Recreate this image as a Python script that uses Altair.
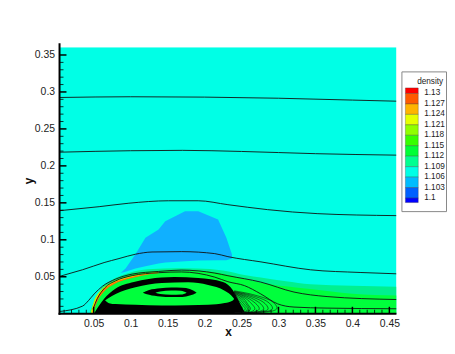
import altair as alt
import pandas as pd

X_DOMAIN = [0.0038, 0.4596]
Y_DOMAIN = [0.0, 0.3606]
X_LABELS = [0.05, 0.1, 0.15, 0.2, 0.25, 0.3, 0.35, 0.4, 0.45]
Y_LABELS = [0.05, 0.1, 0.15, 0.2, 0.25, 0.3, 0.35]
X_MINOR = [i / 100 for i in range(1, 46) if i % 5]
Y_MINOR = [i / 100 for i in range(1, 36) if i % 5]

LEVELS = [1.13, 1.127, 1.124, 1.121, 1.118, 1.115, 1.112, 1.109, 1.106, 1.103, 1.1]
LEVEL_TEXT = ["1.13", "1.127", "1.124", "1.121", "1.118", "1.115", "1.112", "1.109", "1.106", "1.103", "1.1"]
BAND_EDGES = [1.1316, 1.13, 1.127, 1.124, 1.121, 1.118, 1.115, 1.112, 1.109, 1.106, 1.103, 1.1, 1.0987]
BAND_COLORS = ["#ff0000", "#ff5a00", "#ffb400", "#e6ff00", "#90ff00", "#36ff00",
               "#00ff36", "#00ff90", "#00ffe6", "#00bcff", "#0060ff", "#0000ff"]

CYAN, BLUE, LGREEN, GREEN = "#00ffe6", "#10b0ff", "#00f090", "#00ff3c"

BLOB_X = [.0864, .0931, .1065, .12, .1378, .1468, .1736, .1915, .2183, .2295, .2371]
BLOB_TOP = [.0552, .0612, .0805, .1028, .114, .1251, .1386, .1386, .1274, .1028, .0802]
BLOB_BOT = [.0552, .0568, .0612, .0643, .0679, .0693, .0711, .072, .0724, .0724, .0746]

L1_X = [.0455, .0507, .0597, .0731, .0882, .1043, .13, .16, .19, .2249, .2558, .276, .31, .343, .40, .4596]
L1_Y = [.0044, .016, .0335, .0446, .052, .0572, .0605, .0615, .0612, .0585, .052, .049, .044, .040, .038, .0366]
L2_X = [.046, .052, .061, .075, .09, .105, .13, .16, .19, .2249, .25, .276, .31, .343, .40, .4596]
L2_Y = [.0044, .015, .031, .0425, .0495, .054, .0575, .0585, .058, .054, .048, .042, .037, .0334, .027, .0245]

ARC3_X = [.0465, .05, .059, .0725, .0885, .1065, .1365]
ARC3_Y = [.004, .016, .031, .0415, .048, .0525, .0565]
ARC4_X = [.0475, .051, .06, .0735, .0895, .1075, .1375]
ARC4_Y = [.004, .0155, .0305, .041, .0475, .052, .056]
ARC5_X = [.0485, .052, .061, .0745, .0905, .1085, .1385]
ARC5_Y = [.004, .015, .03, .0405, .047, .0515, .0555]
ARC6_X = [.05, .0545, .0635, .0775, .095, .115, .14, .17, .2, .25]
ARC6_Y = [.004, .016, .0295, .040, .0465, .0515, .055, .056, .0555, .045]

BLACK_X = [.0507, .0574, .0641, .0788, .1043, .1244, .1592, .1914, .2249, .2383, .2450, .2500, .2550]
BLACK_Y = [.0007, .011, .0201, .0335, .0429, .0469, .0496, .0483, .0429, .0319, .0200, .0100, .0010]

GREEN_X = [.0654, .0708, .0798, .1066, .1422, .178, .2048, .2272, .2383, .24]
GREEN_TOP = [.0178, .0215, .0268, .0358, .0416, .0425, .0389, .0312, .0224, .02]
GREEN_BOT = [.0178, .0143, .013, .012, .0112, .0115, .0121, .0145, .018, .02]

RING_X = [.1164, .125, .14, .155, .17, .18, .1893]
RING_TOP = [.0285, .032, .0345, .0355, .0352, .0335, .0285]
RING_BOT = [.0285, .0255, .0232, .0225, .0226, .0245, .0285]
HOLE_X = [.1334, .14, .155, .168, .1758]
HOLE_TOP = [.0285, .0302, .0315, .031, .0285]
HOLE_BOT = [.0285, .0268, .0257, .026, .0285]

LINES = [
    ([.0038, .1, .2, .3, .4, .4596], [.2925, .2935, .293, .2915, .289, .2875]),
    ([.0038, .1, .17, .25, .35, .4596], [.2185, .2205, .221, .2195, .2165, .2145]),
    ([.0038, .0574, .0976, .1512, .1914, .2316, .2852, .3523, .4596],
     [.1394, .1448, .1495, .1528, .1528, .1475, .1408, .1354, .1327]),
    ([.0038, .0194, .035, .0641, .0842, .1065, .1289, .1691, .2138, .2316, .2763, .3434, .4104, .4596],
     [.0505, .055, .0595, .0692, .0746, .0805, .0835, .084, .0813, .0772, .0701, .0594, .0558, .054]),
    ([.0038, .035, .043, .0507, .0618, .0798, .102, .1378, .1686, .2138, .2316, .276, .321, .3657, .4596],
     [.003, .0103, .0178, .0268, .0371, .0469, .0536, .0572, .059, .055, .0514, .0428, .0293, .0232, .0192]),
    ([.049, .0549, .065, .0798, .102, .1378, .1686, .2138, .2316, .254, .276, .2987, .321, .3657, .4596],
     [.006, .0205, .035, .0445, .0515, .0555, .0565, .0495, .0433, .038, .0268, .0134, .009, .0076, .0067]),
]
FAN = [
    ([.240, .247, .252, .255, .252, .247, .240], [.026, .017, .011, .007, .003, .0015, .001]),
    ([.240, .249, .255, .258, .255, .249, .240], [.027, .018, .011, .007, .003, .0015, .001]),
    ([.240, .251, .257, .260, .257, .251, .240], [.027, .019, .012, .007, .003, .0015, .001]),
    ([.240, .253, .259, .262, .259, .252, .240], [.028, .020, .012, .007, .003, .0015, .001]),
    ([.240, .255, .264, .268, .264, .255, .240], [.028, .021, .013, .007, .003, .0015, .001]),
    ([.240, .257, .269, .274, .269, .257, .240], [.029, .022, .014, .007, .003, .0015, .001]),
    ([.240, .259, .274, .280, .274, .259, .240], [.029, .023, .015, .007, .003, .0015, .001]),
    ([.240, .261, .279, .286, .279, .261, .240], [.030, .024, .016, .007, .003, .0015, .001]),
    ([.240, .263, .284, .292, .284, .263, .240], [.030, .025, .017, .0075, .003, .0015, .001]),
    ([.240, .265, .289, .298, .289, .265, .240], [.031, .026, .018, .008, .003, .0015, .001]),
]

W, H = 340, 269
xs = alt.Scale(domain=X_DOMAIN, nice=False, zero=False)
ys = alt.Scale(domain=Y_DOMAIN, nice=False, zero=False)
FONT = "Liberation Sans"

x_axis = alt.Axis(values=X_LABELS, format=".2~f", title="x", ticks=False, domain=False, grid=False,
                  labelFont=FONT, labelFontSize=10.5, labelColor="#222222", labelPadding=5,
                  titleFont=FONT, titleFontSize=12, titleFontWeight="bold", titleColor="#111111", titlePadding=-3)
y_axis = alt.Axis(values=Y_LABELS, format=".2~f", title="y", ticks=False, domain=False, grid=False,
                  labelFont=FONT, labelFontSize=10.5, labelColor="#222222", labelPadding=5,
                  titleFont=FONT, titleFontSize=12, titleFontWeight="bold", titleColor="#111111", titlePadding=-1)


def X(field="x"):
    return alt.X(f"{field}:Q", scale=xs, axis=x_axis)


def Y(field):
    return alt.Y(f"{field}:Q", scale=ys, axis=y_axis)


def area(x, top, bot=None, color=CYAN, interp="linear"):
    bot = bot if bot is not None else [0.0] * len(x)
    df = pd.DataFrame({"x": x, "top": top, "bot": bot})
    return alt.Chart(df).mark_area(color=color, clip=True, opacity=1, interpolate=interp).encode(
        x=X(), y=Y("top"), y2="bot:Q")


def curve(x, y, width=0.9, interp="monotone", color="#111111"):
    df = pd.DataFrame({"x": x, "y": y, "i": range(len(x))})
    return alt.Chart(df).mark_line(color=color, strokeWidth=width, clip=True, interpolate=interp).encode(
        x=X(), y=Y("y"), order="i:Q")


layers = [
    area(X_DOMAIN, [Y_DOMAIN[1]] * 2, None, CYAN),
    area(BLOB_X, BLOB_TOP, BLOB_BOT, BLUE),
    area(L1_X, L1_Y, None, LGREEN, "monotone"),
    area(L2_X, L2_Y, None, GREEN, "monotone"),
    area(ARC3_X, ARC3_Y, None, "#b0ff00", "monotone"),
    area(ARC4_X, ARC4_Y, None, "#ffd000", "monotone"),
    area(ARC5_X, ARC5_Y, None, "#ff7000", "monotone"),
    area(ARC6_X, ARC6_Y, None, GREEN, "monotone"),
    area(BLACK_X, BLACK_Y, None, "#000000", "monotone"),
]
for lx, ly in FAN:
    layers.append(curve(lx, ly, 0.6, "cardinal"))
layers += [
    area(GREEN_X, GREEN_TOP, GREEN_BOT, GREEN, "monotone"),
    area(RING_X, RING_TOP, RING_BOT, "#000000", "monotone"),
    area(HOLE_X, HOLE_TOP, HOLE_BOT, GREEN, "monotone"),
]
for lx, ly in LINES:
    layers.append(curve(lx, ly))


def xticks(vals, size, width):
    return alt.Chart(pd.DataFrame({"x": vals})).mark_rule(color="#000000", strokeWidth=width).encode(
        x=X(), y=alt.value(H), y2=alt.value(H - size))


def yticks(vals, size, width):
    return alt.Chart(pd.DataFrame({"y": vals})).mark_rule(color="#000000", strokeWidth=width).encode(
        y=Y("y"), x=alt.value(0), x2=alt.value(size))


layers += [
    xticks(X_MINOR, 4, 0.8),
    xticks(X_LABELS, 7, 1.5),
    yticks(Y_MINOR, 4, 0.8),
    yticks(Y_LABELS, 7, 1.5),
    alt.Chart(pd.DataFrame({"a": [0]})).mark_rule(color="#000000", strokeWidth=2).encode(
        x=alt.value(0), y=alt.value(-4), y2=alt.value(H + 1)),
    alt.Chart(pd.DataFrame({"a": [0]})).mark_rule(color="#000000", strokeWidth=2).encode(
        y=alt.value(H), x=alt.value(-1), x2=alt.value(W)),
]
plot = alt.layer(*layers).properties(width=W, height=H)

ls = alt.Scale(domain=[1.0668, 1.1433], nice=False, zero=False)
bands = pd.DataFrame({"hi": BAND_EDGES[:-1], "lo": BAND_EDGES[1:], "color": BAND_COLORS})
labels = pd.DataFrame({"level": LEVELS, "text": LEVEL_TEXT})
box = alt.Chart(pd.DataFrame({"hi": [1.1362], "lo": [1.0961]})).mark_rect(
    fill="#ffffff", stroke="#888888", strokeWidth=1
).encode(x=alt.value(0.5), x2=alt.value(45.5),
         y=alt.Y("hi:Q", scale=ls, axis=None), y2="lo:Q")
swatches = alt.Chart(bands).mark_rect(stroke="#333333", strokeWidth=0.3).encode(
    x=alt.value(4), x2=alt.value(17),
    y=alt.Y("hi:Q", scale=ls, axis=None), y2="lo:Q",
    color=alt.Color("color:N", scale=None, legend=None),
)
texts = alt.Chart(labels).mark_text(font=FONT, fontSize=8.3, align="left", baseline="middle", color="#222222").encode(
    x=alt.value(23), y=alt.Y("level:Q", scale=ls, axis=None), text="text:N")
title = alt.Chart(pd.DataFrame({"t": ["density"], "y": [1.1333]})).mark_text(
    font=FONT, fontSize=8.3, align="center", baseline="middle", color="#222222"
).encode(x=alt.value(29), y=alt.Y("y:Q", scale=ls, axis=None), text="t:N")
legend = alt.layer(box, swatches, texts, title).properties(width=46, height=H)

chart = alt.hconcat(plot, legend, spacing=1, padding={"left": 14, "top": 33, "right": 0, "bottom": 0}).configure_view(stroke=None)
chart.save("out.html", embed_options={"renderer": "svg", "actions": False})
